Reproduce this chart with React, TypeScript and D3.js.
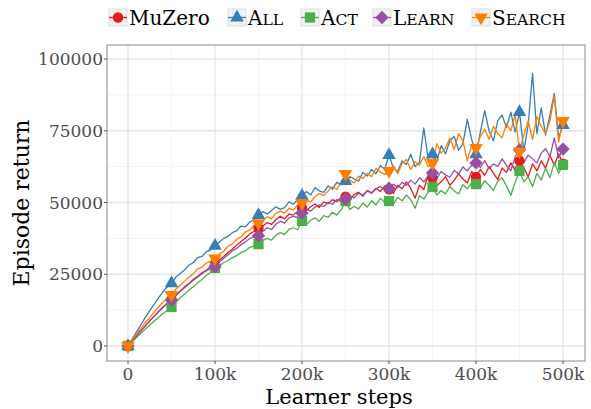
import React from "react";
import * as d3 from "d3";

const STEPS: number[] = d3.range(0, 500001, 5000);

const MUZERO = [0,1800,3600,5400,7100,8800,10400,12000,13500,14900,16200,17800,19200,20600,21800,23200,24200,25500,26400,27600,28400,30000,31200,32600,33800,35200,36400,37600,39000,40000,
  41100,41800,43000,42400,44000,45200,44300,46000,45600,46900,48100,47200,48500,49500,48300,50200,49600,51000,50300,51800,52000,51000,52800,53600,52200,54200,53400,55000,53800,55800,
  54600,53200,56000,54800,57200,55000,51500,56000,54500,59500,58500,55800,57200,59000,56000,57800,60000,58200,56800,60800,58900,61500,59500,62500,60200,58000,62000,60500,63800,61200,
  64500,62000,59000,63500,61000,64500,62000,66500,63000,67000,63500];
const ALL = [0,2500,5000,7500,10000,12300,14500,16800,18800,20500,21800,24000,25300,26500,28200,29000,30800,31200,32800,33500,34900,36200,37500,38200,39500,40200,41800,41500,43200,44000,
  45600,46800,46000,47200,48500,47600,48200,50200,49400,51000,52300,53800,52600,55200,54000,53500,55800,54600,57000,56200,57500,59000,58200,57400,60500,59200,61500,60000,62800,61600,
  66500,62000,60800,64500,63200,66800,62500,64000,76000,65200,66800,64500,69800,67000,71500,73000,68200,70500,79000,72000,66800,74500,82000,75000,71500,78500,80500,76000,81500,74500,
  81500,68000,77000,95000,74000,83000,73500,80500,88000,72500,77000];
const ACT = [0,1500,3000,4500,5900,7300,8600,9900,11200,12400,13600,15200,16800,18000,19500,20600,22000,23200,24600,25600,27200,28000,29000,29800,30800,31500,32600,33200,34400,34800,
  35500,36800,37500,36900,38600,39500,38800,40600,41200,40500,43600,42200,43800,44600,43500,45400,44800,46600,45600,47400,50500,47600,48600,47800,49800,48400,50600,49200,51400,50200,
  50500,49400,51800,50600,52600,51000,48000,52400,51200,53600,55400,52600,54200,53000,55600,54000,53000,56200,54800,56800,56400,55000,57600,56000,54200,57400,58600,55800,52500,57000,
  61000,57200,59000,55600,60200,57800,62000,58600,64000,60200,63100];
const LEARN = [0,1800,3600,5300,7000,8700,10300,11800,13300,14700,16000,17500,19000,20300,21600,22900,24000,25200,26200,27000,27600,29200,30600,31800,33200,34000,35400,36200,37500,38000,
  38400,40000,41200,40600,42400,43500,42800,44600,45200,44700,46300,47600,47000,48400,49200,48600,50000,49400,51000,50400,51200,52400,51600,53200,52600,54000,53200,54800,55600,54400,
  55000,56400,55200,57000,56000,57800,56400,58600,57200,59200,60300,58400,60800,59600,58800,61200,60000,62400,61000,63000,63800,62200,64600,61800,63400,62600,65200,63000,61000,66000,
  68300,64000,66500,65200,63800,67200,68800,66000,72500,65500,68600];
const SEARCH = [0,2200,4300,6300,8200,10000,11800,13500,15200,16600,17800,19800,21200,22600,24000,25200,26800,27500,28900,29600,30500,32200,33000,34800,35600,37200,38000,39800,40400,41900,
  42800,43800,45000,44400,46200,47000,46300,48000,47400,49200,49800,50800,50200,52000,53200,52400,54000,55500,54600,57000,60000,57800,56800,59200,58400,60200,59000,61800,60600,59800,
  61000,62800,60000,63500,65000,61500,64200,63000,66000,62500,63800,70500,67200,69000,72500,68500,74000,71500,64500,70000,69000,73000,75500,72000,76500,74000,72500,77500,75000,80500,
  67800,73500,78500,72000,80000,76500,74000,78500,87000,71000,78400];

const SERIES_NAMES = ["MuZero", "All", "Act", "Learn", "Search"];
const SERIES_VALUES = [MUZERO, ALL, ACT, LEARN, SEARCH];
const COLORS = ["#e41a1c", "#377eb8", "#4daf4a", "#984ea3", "#ff7f00"];
const SHAPES = ["circle", "triUp", "square", "diamond", "triDown"];

const X_TICKS = [0, 100000, 200000, 300000, 400000, 500000];
const X_TICK_LABELS = ["0", "100k", "200k", "300k", "400k", "500k"];
const X_MINOR = [50000, 150000, 250000, 350000, 450000];
const Y_TICKS = [0, 25000, 50000, 75000, 100000];
const Y_MINOR = [12500, 37500, 62500, 87500];
const MARKER_STEPS = [0, 50000, 100000, 150000, 200000, 250000, 300000, 350000, 400000, 450000, 500000];

const FONT = "'DejaVu Serif', serif";
const LEFT = 107, RIGHT = 585, TOP = 45, BOTTOM = 361;

function markerPath(shape: string): { d: string; rot: number } {
  if (shape === "circle") return { d: d3.symbol(d3.symbolCircle, 85)()!, rot: 0 };
  if (shape === "square") return { d: d3.symbol(d3.symbolSquare, 105)()!, rot: 0 };
  if (shape === "diamond") return { d: d3.symbol(d3.symbolSquare, 90)()!, rot: 45 };
  if (shape === "triUp") return { d: d3.symbol(d3.symbolTriangle, 80)()!, rot: 0 };
  return { d: d3.symbol(d3.symbolTriangle, 80)()!, rot: 180 };
}

function LegendLabel({ name, smallCaps, x, y }: { name: string; smallCaps: boolean; x: number; y: number }) {
  if (!smallCaps) {
    return <text x={x} y={y} fontSize={20} fill="#000">{name}</text>;
  }
  return (
    <text x={x} y={y} fontSize={20} fill="#000">
      <tspan>{name.slice(0, 1)}</tspan>
      <tspan fontSize={15.6}>{name.slice(1).toUpperCase()}</tspan>
    </text>
  );
}

export default function App() {
  const x = d3.scaleLinear().domain([-25000, 525000]).range([LEFT - 0.75, RIGHT - 0.25]);
  const y = d3.scaleLinear().domain([-5226, 104878]).range([BOTTOM, TOP]);
  const line = d3.line<number>().x((_, i) => x(STEPS[i])).y((v) => y(v));

  const legendX = [109, 228, 301, 373, 472];

  return (
    <svg width={591} height={409} style={{ position: "absolute", left: 0, top: 0, background: "#fff" }} fontFamily={FONT}>
      <rect x={LEFT} y={TOP} width={RIGHT - LEFT} height={BOTTOM - TOP} fill="#fff" />
      {X_MINOR.map((t) => (
        <line key={"xm" + t} x1={x(t)} x2={x(t)} y1={TOP} y2={BOTTOM} stroke="#f3f3f3" strokeWidth={1} />
      ))}
      {Y_MINOR.map((t) => (
        <line key={"ym" + t} x1={LEFT} x2={RIGHT} y1={y(t)} y2={y(t)} stroke="#f3f3f3" strokeWidth={1} />
      ))}
      {X_TICKS.map((t) => (
        <line key={"xg" + t} x1={x(t)} x2={x(t)} y1={TOP} y2={BOTTOM} stroke="#e6e6e6" strokeWidth={1.3} />
      ))}
      {Y_TICKS.map((t) => (
        <line key={"yg" + t} x1={LEFT} x2={RIGHT} y1={y(t)} y2={y(t)} stroke="#e6e6e6" strokeWidth={1.3} />
      ))}
      {SERIES_VALUES.map((vals, s) => (
        <path key={"l" + s} d={line(vals)!} fill="none" stroke={COLORS[s]} strokeWidth={1.3} strokeLinejoin="round" />
      ))}
      {SERIES_VALUES.map((vals, s) => {
        const m = markerPath(SHAPES[s]);
        return MARKER_STEPS.map((st) => {
          const i = STEPS.indexOf(st);
          return (
            <path key={"m" + s + "-" + st} d={m.d} fill={COLORS[s]}
              transform={`translate(${x(st)},${y(vals[i])}) rotate(${m.rot})`} />
          );
        });
      })}
      <rect x={LEFT} y={TOP} width={RIGHT - LEFT} height={BOTTOM - TOP} fill="none" stroke="#8a8a8a" strokeWidth={1} />
      {Y_TICKS.map((t) => (
        <g key={"yt" + t}>
          <line x1={LEFT - 3} x2={LEFT} y1={y(t)} y2={y(t)} stroke="#555" />
          <text x={LEFT - 4} y={y(t)} dy="0.36em" textAnchor="end" fontSize={17} fill="#4d4d4d">{t}</text>
        </g>
      ))}
      {X_TICKS.map((t, i) => (
        <g key={"xt" + t}>
          <line x1={x(t)} x2={x(t)} y1={BOTTOM} y2={BOTTOM + 3} stroke="#555" />
          <text x={x(t)} y={380} textAnchor="middle" fontSize={17} fill="#4d4d4d">{X_TICK_LABELS[i]}</text>
        </g>
      ))}
      <text x={339} y={404} textAnchor="middle" fontSize={21} fill="#000">Learner steps</text>
      <text transform={`translate(29,${(TOP + BOTTOM) / 2}) rotate(-90)`} textAnchor="middle" fontSize={22} fill="#000">Episode return</text>
      {SERIES_NAMES.map((name, s) => {
        const kx = legendX[s];
        const m = markerPath(SHAPES[s]);
        return (
          <g key={"lg" + s}>
            <rect x={kx} y={9} width={18} height={17} fill="#f2f2f2" stroke="#d6d6d6" strokeWidth={0.8} />
            <line x1={kx} x2={kx + 18} y1={17.5} y2={17.5} stroke={COLORS[s]} strokeWidth={1.3} />
            <path d={m.d} fill={COLORS[s]} transform={`translate(${kx + 9},17.5) rotate(${m.rot})`} />
            <LegendLabel name={name} smallCaps={s !== 0} x={kx + 20} y={25} />
          </g>
        );
      })}
    </svg>
  );
}
